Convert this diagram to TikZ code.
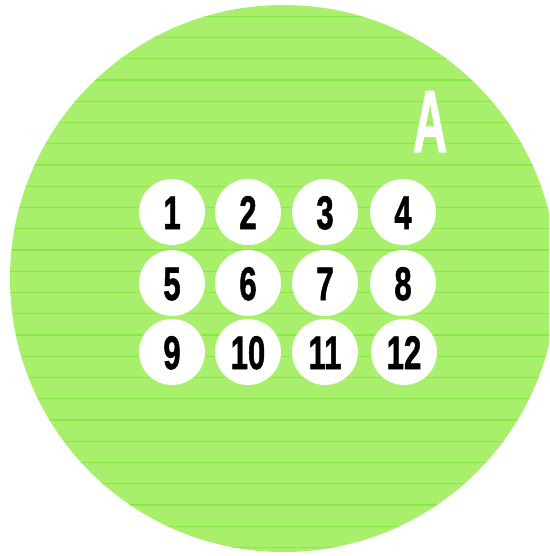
\documentclass[tikz,border=0pt]{standalone}
\usepackage{fontspec}
\setmainfont{Liberation Sans}
\newfontfamily\heavyfont[FakeBold=1.6]{Liberation Sans Bold}
\definecolor{bggreen}{RGB}{168,240,108}
\definecolor{stripegreen}{RGB}{140,232,72}
\tikzset{
  disc/.style={circle, fill=white, minimum size=66pt, inner sep=0pt},
  numtext/.style={font=\fontsize{47}{47}\heavyfont, text=black, inner sep=0pt, anchor=base},
  bigletter/.style={font=\fontsize{88}{88}\heavyfont, text=white, inner sep=0pt, anchor=base},
}
\newcommand{\cnum}[1]{\scalebox{0.66}[1]{#1}}
\begin{document}
\begin{tikzpicture}[x=1pt,y=-1pt]
\useasboundingbox (0,0) rectangle (549,556);
\begin{scope}
  \clip (0,0) rectangle (549,556);
  \fill[bggreen] (283.5,278.5) circle (273.5);
  \begin{scope}
    \clip (283.5,278.5) circle (273.5);
    \foreach \k in {0,...,25} {
      \fill[stripegreen] (0,{16.25+21.25*\k-0.7}) rectangle (560,{16.25+21.25*\k+0.7});
    }
  \end{scope}
\end{scope}
\node[bigletter] (lblA) at (430,152) {\scalebox{0.54}[1]{A}};
\foreach \n/\x/\y in {1/172/212, 2/248/212, 3/325/212, 4/403/212,
                      5/172/283, 6/248/283, 7/325/283, 8/403/283,
                      9/172/352, 10/248/352, 11/325/352, 12/404/352} {
  \node[disc] (d\n) at (\x,\y) {};
  \node[numtext] (t\n) at (\x,{\y+17}) {\cnum{\n}};
}
\end{tikzpicture}
\end{document}
